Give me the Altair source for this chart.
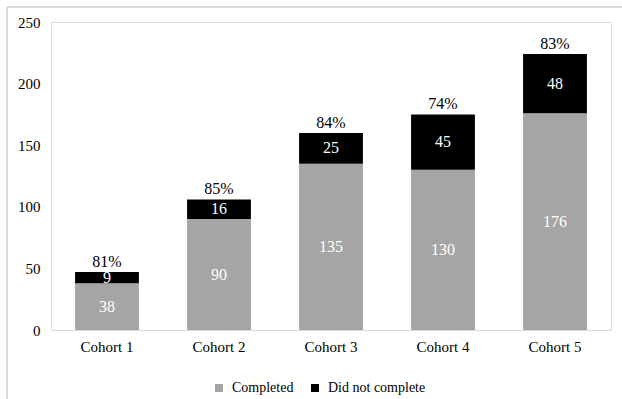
import altair as alt
import pandas as pd

cohorts = ["Cohort 1", "Cohort 2", "Cohort 3", "Cohort 4", "Cohort 5"]
completed = [38, 90, 135, 130, 176]
not_completed = [9, 16, 25, 45, 48]
pct_labels = ["81%", "85%", "84%", "74%", "83%"]
series = ["Completed", "Did not complete"]
colors = ["#a5a5a5", "#000000"]

rows = []
for c, a, b in zip(cohorts, completed, not_completed):
    rows.append({"cohort": c, "status": series[0], "value": a, "ord": 0})
    rows.append({"cohort": c, "status": series[1], "value": b, "ord": 1})
long_df = pd.DataFrame(rows)

tot_df = pd.DataFrame({
    "cohort": cohorts,
    "total": [a + b for a, b in zip(completed, not_completed)],
    "pct": pct_labels,
})

FONT = "Liberation Serif"

x_enc = alt.X("cohort:N", sort=cohorts, title=None,
              scale=alt.Scale(paddingInner=0.43, paddingOuter=0.215),
              axis=alt.Axis(labelAngle=0, ticks=False, domainColor="#d9d9d9",
                            labelFontSize=15, labelColor="#000", labelPadding=9,
                            labelFont=FONT))
y_scale = alt.Scale(domain=[0, 250])

bars = alt.Chart(long_df).mark_bar().encode(
    x=x_enc,
    y=alt.Y("value:Q", stack="zero", scale=y_scale, title=None,
            axis=alt.Axis(values=[0, 50, 100, 150, 200, 250], domain=False, ticks=False,
                          grid=False, labelFontSize=15, labelColor="#000",
                          labelPadding=11, labelFont=FONT)),
    color=alt.Color("status:N", scale=alt.Scale(domain=series, range=colors),
                    legend=alt.Legend(title=None, orient="none", direction="horizontal",
                                      legendX=161, legendY=359, symbolType="square",
                                      symbolSize=64, symbolStrokeWidth=0,
                                      labelFontSize=14, labelFont=FONT, labelColor="#000",
                                      labelOffset=6, columnPadding=14)),
    order=alt.Order("ord:Q"),
)

seg_text = alt.Chart(long_df).transform_stack(
    stack="value", groupby=["cohort"], sort=[alt.SortField("ord")], as_=["y0", "y1"]
).transform_calculate(
    mid="(datum.y0 + datum.y1) / 2"
).mark_text(font=FONT, fontSize=16, color="white", baseline="middle").encode(
    x=alt.X("cohort:N", sort=cohorts),
    y=alt.Y("mid:Q", scale=y_scale),
    text="value:Q",
)

pct_text = alt.Chart(tot_df).mark_text(font=FONT, fontSize=16, color="#000",
                                       baseline="bottom", dy=-2).encode(
    x=alt.X("cohort:N", sort=cohorts),
    y=alt.Y("total:Q", scale=y_scale),
    text="pct:N",
)

border_left = alt.Chart(tot_df).mark_rule(color="#d9d9d9", strokeWidth=1).encode(
    x=alt.value(-44), y=alt.value(-15), y2=alt.value(380))
border_top = alt.Chart(tot_df).mark_rule(color="#d9d9d9", strokeWidth=1).encode(
    x=alt.value(-44), x2=alt.value(575), y=alt.value(-15))

chart = alt.layer(border_left, border_top, bars, seg_text, pct_text).properties(
    width=560, height=308,
    autosize=alt.AutoSizeParams(type="none"),
    padding={"left": 51, "top": 22, "right": 11, "bottom": 69},
).configure_view(stroke=None).configure(background="white", font=FONT)

chart.save("out.html", embed_options={"renderer": "svg", "actions": False})
